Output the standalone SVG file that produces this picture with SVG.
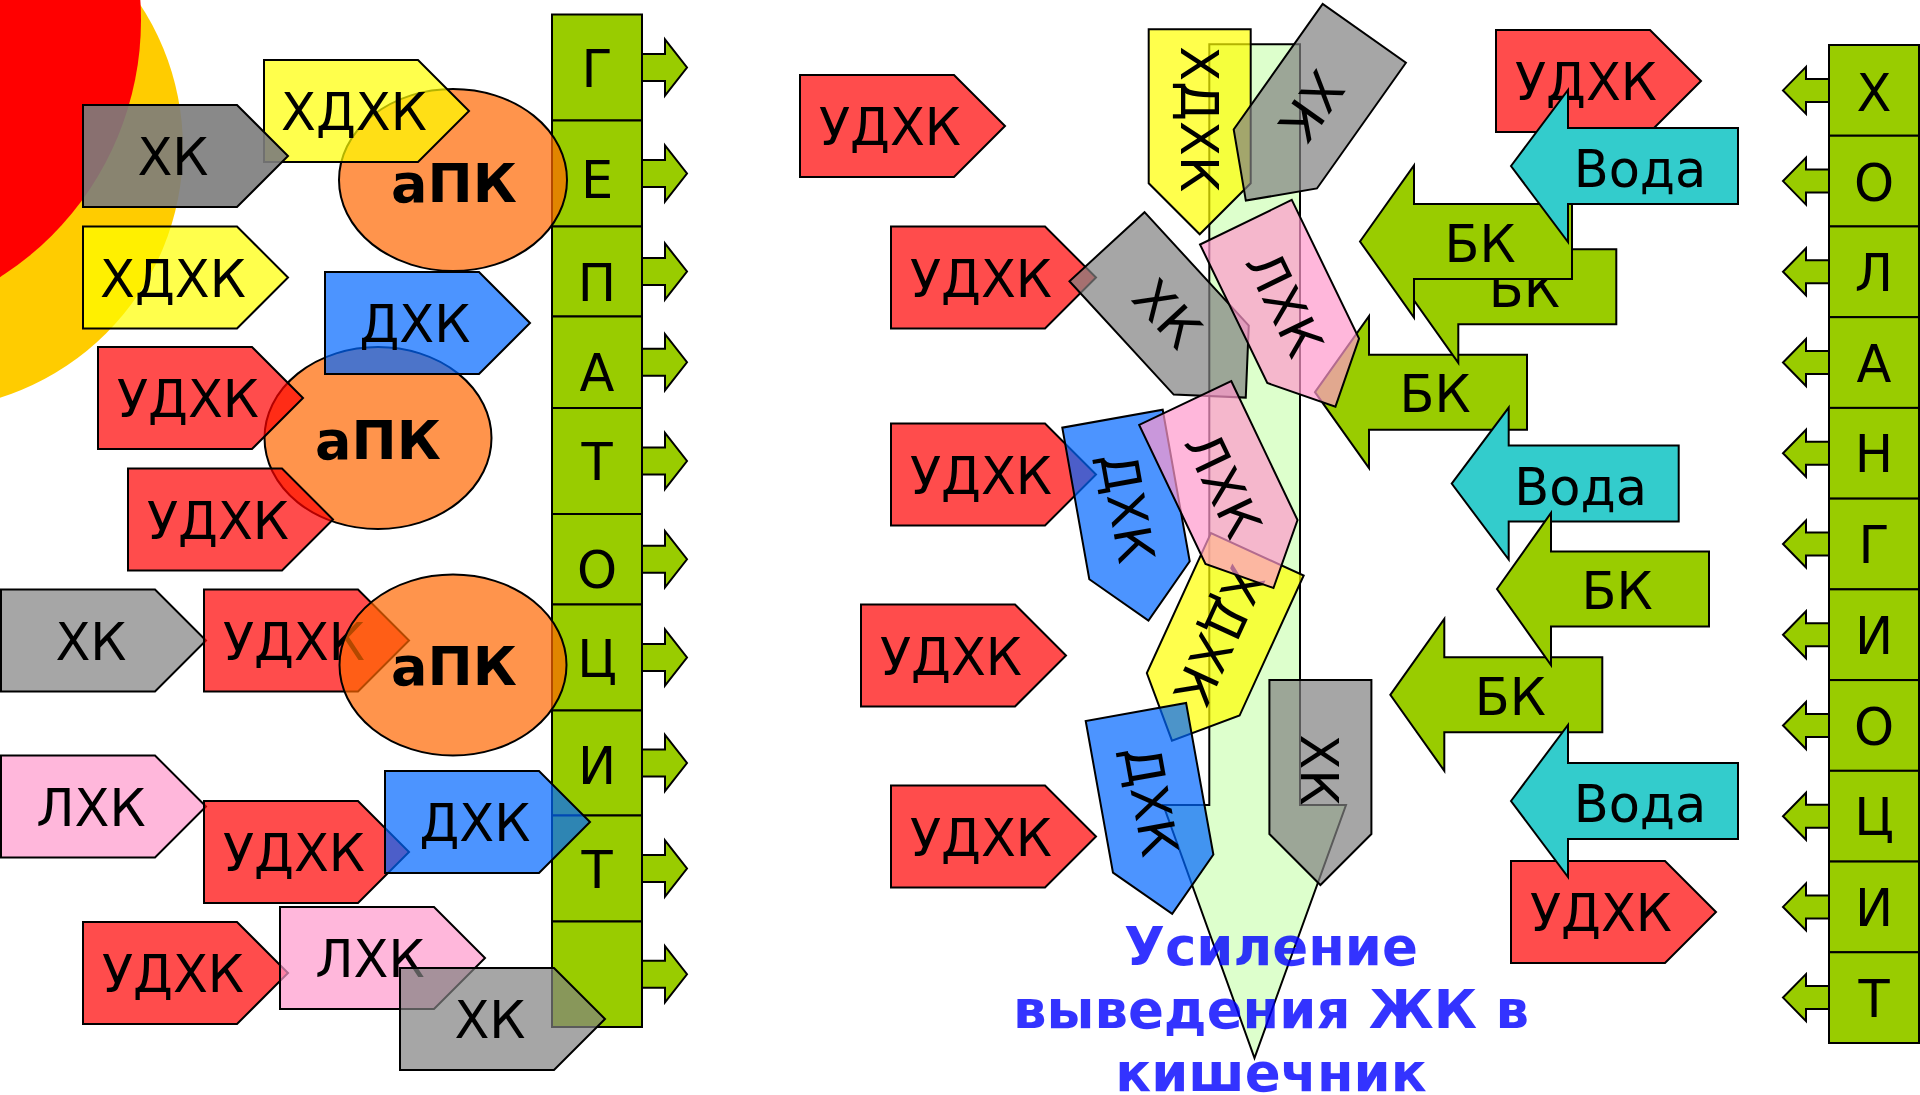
<svg xmlns="http://www.w3.org/2000/svg" xmlns:xlink="http://www.w3.org/1999/xlink" width="1920" height="1095" viewBox="0 0 1920 1095">
<style>
.s{stroke:#000;stroke-width:2}
.red{fill:#FF0000;fill-opacity:.7}
.yel{fill:#FFFF00;fill-opacity:.7}
.blu{fill:#0066FF;fill-opacity:.7}
.gry{fill:#808080;fill-opacity:.7}
.dgr{fill:#7C7C7C;fill-opacity:.9}
.pnk{fill:#FF99CC;fill-opacity:.7}
.org{fill:#FF6600;fill-opacity:.7}
.grn{fill:#99CC00}
.cyn{fill:#33CCCC}
.t{font-family:"DejaVu Sans","Liberation Sans",sans-serif;font-size:51px;fill:#000;text-anchor:middle}
.tb{font-family:"DejaVu Sans","Liberation Sans",sans-serif;font-size:54px;font-weight:bold;fill:#000;text-anchor:middle}
.title{font-family:"DejaVu Sans","Liberation Sans",sans-serif;font-size:53px;font-weight:bold;fill:#0000FF;fill-opacity:.8;text-anchor:middle}
</style>
<defs>
<path id="hp" d="M0,-51 H154 L205,0 L154,51 H0 Z"/>
<path id="bk" d="M0,0 L54,-76 V-37.5 H212 V37.5 H54 V76 Z"/>
<path id="vd" d="M0,0 L57,-76 V-38 H227 V38 H57 V76 Z"/>
<path id="ra" d="M620,-13.5 H665 V-28 L687,0 L665,28 V13.5 H620 Z"/>
<path id="la" d="M1850,-11.5 H1806 V-23.5 L1783,0 L1806,23.5 V11.5 H1850 Z"/>
</defs>

<g id="sun">
<circle cx="-79" cy="148" r="262" fill="#FFCC00"/>
<circle cx="-164" cy="20" r="305" fill="#FF0000"/>
</g>

<g id="hepatocyte">
<g class="s grn">
<use href="#ra" transform="translate(0,67.5)"/>
<use href="#ra" transform="translate(0,173.5)"/>
<use href="#ra" transform="translate(0,271.5)"/>
<use href="#ra" transform="translate(0,362.25)"/>
<use href="#ra" transform="translate(0,461)"/>
<use href="#ra" transform="translate(0,559.25)"/>
<use href="#ra" transform="translate(0,657.5)"/>
<use href="#ra" transform="translate(0,763)"/>
<use href="#ra" transform="translate(0,868.5)"/>
<use href="#ra" transform="translate(0,974.25)"/>
<rect x="552" y="14.5" width="90" height="106"/>
<rect x="552" y="120.5" width="90" height="106"/>
<rect x="552" y="226.5" width="90" height="90"/>
<rect x="552" y="316.5" width="90" height="91.5"/>
<rect x="552" y="408" width="90" height="106"/>
<rect x="552" y="514" width="90" height="90.5"/>
<rect x="552" y="604.5" width="90" height="106"/>
<rect x="552" y="710.5" width="90" height="105"/>
<rect x="552" y="815.5" width="90" height="106"/>
<rect x="552" y="921.5" width="90" height="105.5"/>
</g>
<g class="t">
<text x="597" y="87">Г</text>
<text x="597" y="198">Е</text>
<text x="597" y="301">П</text>
<text x="597" y="391">А</text>
<text x="597" y="480">Т</text>
<text x="597" y="588">О</text>
<text x="597" y="677">Ц</text>
<text x="597" y="784">И</text>
<text x="597" y="888">Т</text>
</g>
</g>

<g id="apk1"><ellipse class="s org" cx="453" cy="180" rx="114" ry="91"/><text class="tb" x="454" y="202">аПК</text></g>
<g id="l-hdhk1" transform="translate(264,111)"><use href="#hp" class="s yel"/><text class="t" x="90" y="19">ХДХК</text></g>
<g id="l-hk1" transform="translate(83,156)"><use href="#hp" class="s dgr"/><text class="t" x="90" y="19">ХК</text></g>
<g id="l-hdhk2" transform="translate(83,277.5)"><use href="#hp" class="s yel"/><text class="t" x="90" y="19">ХДХК</text></g>
<g id="apk2"><ellipse class="s org" cx="378" cy="438" rx="113.5" ry="91"/><text class="tb" x="378" y="459">аПК</text></g>
<g id="l-dhk1" transform="translate(325,323)"><use href="#hp" class="s blu"/><text class="t" x="90" y="19">ДХК</text></g>
<g id="l-udhk1" transform="translate(98,398)"><use href="#hp" class="s red"/><text class="t" x="90" y="19">УДХК</text></g>
<g id="l-udhk2" transform="translate(128,519.5)"><use href="#hp" class="s red"/><text class="t" x="90" y="19">УДХК</text></g>
<g id="l-hk2" transform="translate(1,640.5)"><use href="#hp" class="s gry"/><text class="t" x="90" y="19">ХК</text></g>
<g id="l-udhk3" transform="translate(204,640.5)"><use href="#hp" class="s red"/><text class="t" x="90" y="19">УДХК</text></g>
<g id="apk3"><ellipse class="s org" cx="453" cy="665" rx="113.5" ry="90.5"/><text class="tb" x="454" y="685">аПК</text></g>
<g id="l-lhk1" transform="translate(1,806.5)"><use href="#hp" class="s pnk"/><text class="t" x="90" y="19">ЛХК</text></g>
<g id="l-udhk4" transform="translate(204,852)"><use href="#hp" class="s red"/><text class="t" x="90" y="19">УДХК</text></g>
<g id="l-dhk2" transform="translate(385,822)"><use href="#hp" class="s blu"/><text class="t" x="90" y="19">ДХК</text></g>
<g id="l-udhk5" transform="translate(83,973)"><use href="#hp" class="s red"/><text class="t" x="90" y="19">УДХК</text></g>
<g id="l-lhk2" transform="translate(280,958)"><use href="#hp" class="s pnk"/><text class="t" x="90" y="19">ЛХК</text></g>
<g id="l-hk3" transform="translate(400,1019)"><use href="#hp" class="s gry"/><text class="t" x="90" y="19">ХК</text></g>

<g id="funnel"><path class="s" fill="#DDFFCC" d="M1209.3,44.3 H1300 V805 H1346 L1254.5,1058 L1163.3,805 H1209.3 Z"/></g>

<g id="m-udhk1" transform="translate(800,126)"><use href="#hp" class="s red"/><text class="t" x="90" y="19">УДХК</text></g>
<g id="m-udhk2" transform="translate(891,277.5)"><use href="#hp" class="s red"/><text class="t" x="90" y="19">УДХК</text></g>
<g id="m-udhk3" transform="translate(891,474.5)"><use href="#hp" class="s red"/><text class="t" x="90" y="19">УДХК</text></g>
<g id="m-udhk4" transform="translate(861,655.5)"><use href="#hp" class="s red"/><text class="t" x="90" y="19">УДХК</text></g>
<g id="m-udhk5" transform="translate(891,836.5)"><use href="#hp" class="s red"/><text class="t" x="90" y="19">УДХК</text></g>
<g id="r-udhk1" transform="translate(1496,81)"><use href="#hp" class="s red"/><text class="t" x="90" y="19">УДХК</text></g>

<g id="bk3" transform="translate(1315,392.2)"><use href="#bk" class="s grn"/><text class="t" x="120" y="20">БК</text></g>
<g id="bk2" transform="translate(1404.3,286.8)"><use href="#bk" class="s grn"/><text class="t" x="120" y="20">БК</text></g>
<g id="bk1" transform="translate(1360,241.5)"><use href="#bk" class="s grn"/><text class="t" x="120" y="20">БК</text></g>
<g id="voda1" transform="translate(1511,166)"><use href="#vd" class="s cyn"/><text class="t" x="129" y="21">Вода</text></g>
<g id="voda2" transform="translate(1451.7,483.6)"><use href="#vd" class="s cyn"/><text class="t" x="129" y="21">Вода</text></g>
<g id="bk5" transform="translate(1390.3,694.8)"><use href="#bk" class="s grn"/><text class="t" x="120" y="20">БК</text></g>
<g id="bk4" transform="translate(1497,589)"><use href="#bk" class="s grn"/><text class="t" x="120" y="20">БК</text></g>
<g id="r-udhk2" transform="translate(1511,912)"><use href="#hp" class="s red"/><text class="t" x="90" y="19">УДХК</text></g>
<g id="voda3" transform="translate(1511,801)"><use href="#vd" class="s cyn"/><text class="t" x="129" y="21">Вода</text></g>

<g id="c-hdhk1" transform="translate(1199.7,29.3) rotate(90)"><use href="#hp" class="s yel"/><text class="t" x="90" y="19">ХДХК</text></g>
<g id="c-hk1" transform="translate(1364.3,33.3) rotate(125.3)"><use href="#hp" class="s gry"/><text class="t" x="90" y="19">ХК</text></g>
<g id="c-hk2" transform="translate(1107,246.7) rotate(47.4)"><use href="#hp" class="s gry"/><text class="t" x="90" y="19">ХК</text></g>
<g id="c-hdhk2" transform="translate(1257.3,554.3) rotate(114.6)"><use href="#hp" class="s yel"/><text class="t" x="90" y="19">ХДХК</text></g>
<g id="c-dhk1" transform="translate(1112.5,418.7) rotate(79.9)"><use href="#hp" class="s blu"/><text class="t" x="90" y="19">ДХК</text></g>
<g id="c-dhk2" transform="translate(1135.9,712) rotate(79.8)"><use href="#hp" class="s blu"/><text class="t" x="90" y="19">ДХК</text></g>
<g id="c-lhk1" transform="translate(1245.9,222.2) rotate(64.1)"><use href="#hp" class="s pnk"/><text class="t" x="90" y="19">ЛХК</text></g>
<g id="c-lhk2" transform="translate(1185.2,403) rotate(64.5)"><use href="#hp" class="s pnk"/><text class="t" x="90" y="19">ЛХК</text></g>
<g id="c-hk3" transform="translate(1320.4,680) rotate(90)"><use href="#hp" class="s gry"/><text class="t" x="90" y="19">ХК</text></g>

<g id="cholangiocyte">
<g class="s grn">
<use href="#la" transform="translate(0,90.4)"/>
<use href="#la" transform="translate(0,181.1)"/>
<use href="#la" transform="translate(0,271.8)"/>
<use href="#la" transform="translate(0,362.5)"/>
<use href="#la" transform="translate(0,453.3)"/>
<use href="#la" transform="translate(0,544)"/>
<use href="#la" transform="translate(0,634.7)"/>
<use href="#la" transform="translate(0,725.5)"/>
<use href="#la" transform="translate(0,816.2)"/>
<use href="#la" transform="translate(0,906.9)"/>
<use href="#la" transform="translate(0,997.6)"/>
<rect x="1829" y="45" width="90" height="90.73"/>
<rect x="1829" y="135.73" width="90" height="90.73"/>
<rect x="1829" y="226.45" width="90" height="90.73"/>
<rect x="1829" y="317.18" width="90" height="90.73"/>
<rect x="1829" y="407.91" width="90" height="90.73"/>
<rect x="1829" y="498.64" width="90" height="90.73"/>
<rect x="1829" y="589.36" width="90" height="90.73"/>
<rect x="1829" y="680.09" width="90" height="90.73"/>
<rect x="1829" y="770.82" width="90" height="90.73"/>
<rect x="1829" y="861.55" width="90" height="90.73"/>
<rect x="1829" y="952.27" width="90" height="90.73"/>
</g>
<g class="t">
<text x="1874" y="110.5">Х</text>
<text x="1874" y="201">О</text>
<text x="1874" y="290.8">Л</text>
<text x="1874" y="381.5">А</text>
<text x="1874" y="472.3">Н</text>
<text x="1874" y="563">Г</text>
<text x="1874" y="653.7">И</text>
<text x="1874" y="744.5">О</text>
<text x="1874" y="835.2">Ц</text>
<text x="1874" y="925.9">И</text>
<text x="1874" y="1016.6">Т</text>
</g>
</g>

<g id="title" class="title">
<text x="1271" y="964.5">Усиление</text>
<text x="1271" y="1027.5">выведения ЖК в</text>
<text x="1271" y="1090.5">кишечник</text>
</g>
</svg>
